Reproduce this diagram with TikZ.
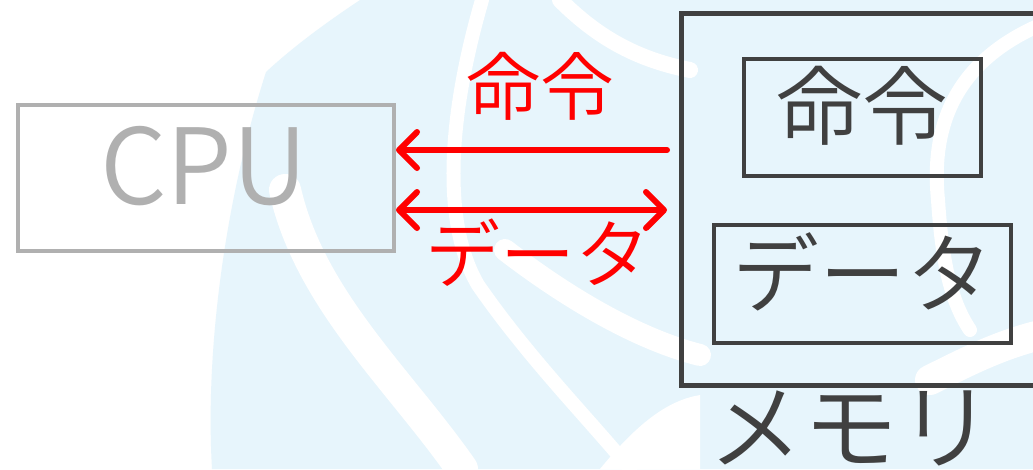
\documentclass[tikz,border=0pt]{standalone}
\usepackage{fontspec}
\IfFontExistsTF{Noto Sans CJK JP DemiLight}{\setmainfont{Noto Sans CJK JP DemiLight}}{%
  \IfFontExistsTF{Noto Sans CJK JP Light}{\setmainfont{Noto Sans CJK JP Light}}{\setmainfont{Noto Sans CJK JP}}}
\usetikzlibrary{arrows.meta}
\definecolor{bgblue}{RGB}{231,245,252}
\definecolor{cpugray}{RGB}{176,176,176}
\definecolor{darkline}{RGB}{64,64,64}
\definecolor{arrred}{RGB}{255,0,0}
\tikzset{
  cpubox/.style={draw=cpugray, line width=4pt, minimum width=376pt, minimum height=146pt, inner sep=0pt},
  membox/.style={draw=darkline, line width=5pt, minimum width=420pt, minimum height=372pt, inner sep=0pt},
  innerbox/.style={draw=darkline, line width=4pt, inner sep=0pt},
  lbl/.style={inner sep=0pt, font=\fontsize{#1}{#1}\selectfont},
  redarrow/.style={draw=arrred, line width=6pt, line cap=round},
  band/.style={draw=white, line cap=round},
  redbarb/.tip={Straight Barb[length=18pt, width=36pt, line cap=round, round]},
}
\begin{document}
\begin{tikzpicture}[x=1pt, y=-1pt]
\clip (0,0) rectangle (1033,469);
\fill[white] (0,0) rectangle (1033,469);
% background watermark
\fill[bgblue] (360,0) -- (1033,0) -- (1033,469) -- (212,469) .. controls (205,350) and (225,200) .. (266,72) .. controls (295,45) and (330,20) .. (360,0) -- cycle;
\draw[band, line width=32pt] (285,190) .. controls (310,300) and (400,380) .. (462,469);
\draw[band, line width=14pt] (482,0) .. controls (450,110) and (440,220) .. (478,285) .. controls (530,360) and (590,420) .. (630,469);
\draw[band, line width=22pt] (505,250) .. controls (570,300) and (640,340) .. (700,355);
\fill[white] (600,469) .. controls (640,420) and (670,400) .. (700,395) -- (700,469) -- cycle;
\draw[band, line width=14pt] (1040,25) .. controls (960,60) and (930,120) .. (938,200) .. controls (942,260) and (950,300) .. (970,330);
\draw[band, line width=30pt] (930,380) .. controls (970,360) and (1000,345) .. (1040,335);
\draw[band, line width=16pt] (560,0) .. controls (600,40) and (640,60) .. (690,70);
% CPU
\node[cpubox] (cpu) at (206,178) {};
\node[lbl=105, text=cpugray] (cputext) at (204,166) {CPU};
% memory
\node[membox] (mem) at (891,199.5) {};
\node[innerbox, minimum width=237pt, minimum height=117pt] (inst) at (862.5,117.5) {};
\node[lbl=86, text=darkline] (insttext) at (862,106) {命令};
\node[innerbox, minimum width=297pt, minimum height=118pt] (data) at (862.5,284) {};
\node[lbl=87, text=darkline] (datatext) at (863,272) {データ};
\node[lbl=95, text=darkline] (memtext) at (851,428) {メモリ};
% arrows
\coordinate (a1s) at (667,150);
\coordinate (a2s) at (667,210);
\draw[redarrow, -redbarb] (a1s) -- (cpu.east |- a1s);
\draw[redarrow, redbarb-redbarb] (cpu.east |- a2s) -- (a2s);
\node[lbl=74, text=arrred] (l1) at (540,86) {命令};
\node[lbl=75, text=arrred] (l2) at (538,253) {データ};
\end{tikzpicture}
\end{document}
